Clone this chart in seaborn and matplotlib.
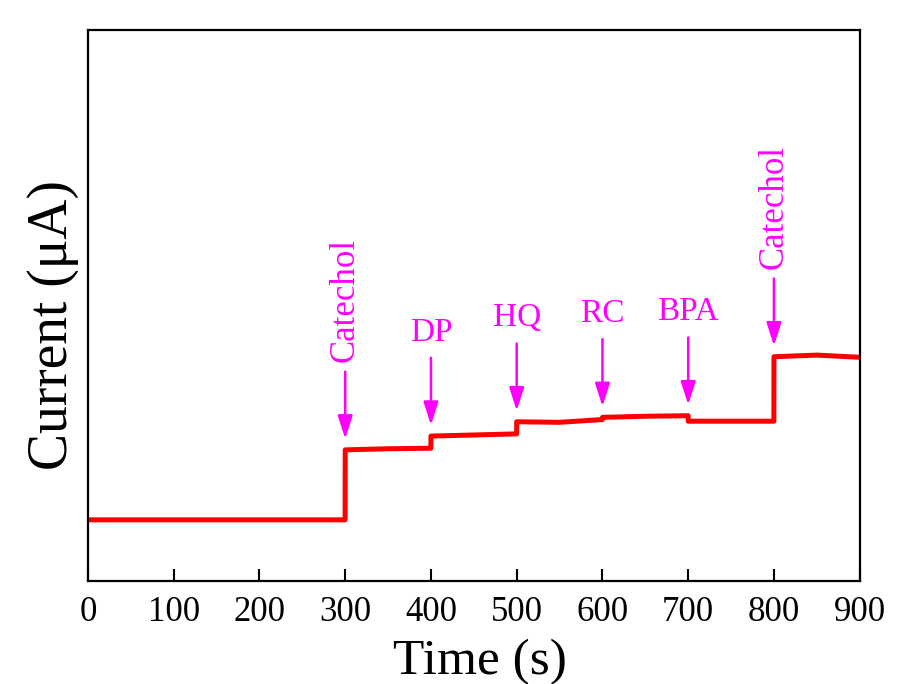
import matplotlib
matplotlib.use("Agg")
import matplotlib.pyplot as plt
import seaborn as sns
import pandas as pd

# ---- data (current in arbitrary units) ----
time_s = [0, 100, 200, 299.9, 300, 350, 399.9, 400, 450, 499.9, 500, 550,
          599.9, 600, 650, 699.9, 700, 750, 799.9, 800, 850, 900]
current = [1.11, 1.11, 1.11, 1.11, 2.38, 2.40, 2.41, 2.63, 2.65, 2.67, 2.89, 2.88,
           2.93, 2.97, 2.99, 3.00, 2.90, 2.90, 2.90, 4.07, 4.10, 4.06]

event_times = [300, 400, 500, 600, 700, 800]
event_labels = ["Catechol", "DP", "HQ", "RC", "BPA", "Catechol"]
event_rot = [90, 0, 0, 0, 0, 90]
xticks = [0, 100, 200, 300, 400, 500, 600, 700, 800, 900]

sns.set_style("ticks")
plt.rcParams["font.family"] = ["Liberation Serif", "DejaVu Serif"]

fig = plt.figure(figsize=(9.04, 6.84), dpi=100)
ax = fig.add_axes([0.0973, 0.1506, 0.8537, 0.8055])

df = pd.DataFrame({"t": time_s, "i": current})
sns.lineplot(data=df, x="t", y="i", estimator=None, sort=False,
             color="#ff0000", linewidth=3.6, ax=ax)

ax.set_xlim(0, 900)
ax.set_ylim(0, 10)
ax.set_xticks(xticks)
ax.set_xticklabels([str(v) for v in xticks])
ax.set_yticks([])
ax.tick_params(axis="x", direction="in", length=9, width=1.5,
               labelsize=25, pad=11, colors="black")
for s in ax.spines.values():
    s.set_visible(True)
    s.set_linewidth(1.6)
    s.set_color("black")

ax.set_xlabel("Time (s)", fontsize=37, color="black")
ax.set_ylabel("Current (\u03bcA)", fontsize=40, color="black")
ax.xaxis.set_label_coords(0.508, -0.105)
ax.yaxis.set_label_coords(-0.012, 0.4655)

magenta = "#ff00ff"
for t, lab, rot in zip(event_times, event_labels, event_rot):
    near = [c for tt, c in zip(time_s, current) if abs(tt - t) <= 1]
    tip = max(near) + 0.2
    tail = tip + 1.22
    ax.annotate("", xy=(t, tip), xytext=(t, tail),
                arrowprops=dict(arrowstyle="-|>,head_length=1.4,head_width=0.45",
                                color=magenta, lw=1.8, shrinkA=0, shrinkB=0))
    if rot == 90:
        ax.text(t, tail + 0.17, lab, rotation=90, ha="center", va="bottom",
                color=magenta, fontsize=25)
    else:
        ax.text(t, tail + 0.31, lab, ha="center", va="baseline",
                color=magenta, fontsize=24)

fig.savefig("out.png", dpi=100, facecolor="white")
